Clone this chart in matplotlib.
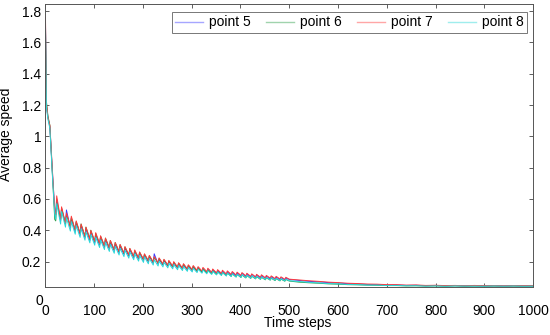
import matplotlib
matplotlib.use("Agg")
import matplotlib.pyplot as plt

plt.rcParams["font.family"] = ["Liberation Sans", "DejaVu Sans"]
plt.rcParams["font.size"] = 10

time_steps = [
    0, 2, 5, 9, 14, 19,
    21, 23, 31, 33, 41, 43, 51, 53, 61, 63, 71, 73, 81, 83, 91, 93,
    101, 103, 111, 113, 121, 123, 131, 133, 141, 143, 151, 153, 161, 163,
    171, 173, 181, 183, 191, 193, 201, 203, 211, 213, 221, 223, 231, 233,
    241, 243, 251, 253, 261, 263, 271, 273, 281, 283, 291, 293, 301, 303,
    311, 313, 321, 323, 331, 333, 341, 343, 351, 353, 361, 363, 371, 373,
    381, 383, 391, 393, 401, 403, 411, 413, 421, 423, 431, 433, 441, 443,
    451, 453, 461, 463, 471, 473, 481, 483, 491, 493,
    500, 520, 540, 560, 580, 600, 620, 640, 660, 680,
    700, 720, 740, 760, 780, 800, 820, 840, 860, 880, 900, 920, 940, 960,
    980, 1000,
]

point5 = [
    1.72, 1.20, 1.12, 1.06, 0.78, 0.53,
    0.50, 0.60, 0.46, 0.54, 0.44, 0.53, 0.415, 0.475, 0.39, 0.45, 0.37, 0.43,
    0.352, 0.408, 0.335, 0.39,
    0.32, 0.37, 0.305, 0.355, 0.29, 0.34, 0.28, 0.325, 0.268, 0.312,
    0.255, 0.30, 0.246, 0.286, 0.235, 0.275, 0.225, 0.265, 0.215, 0.255,
    0.208, 0.243, 0.198, 0.233, 0.19, 0.25, 0.185, 0.215, 0.178, 0.208,
    0.171, 0.201, 0.164, 0.194, 0.158, 0.186, 0.152, 0.18, 0.147, 0.173,
    0.142, 0.168, 0.138, 0.163, 0.133, 0.157, 0.13, 0.152, 0.126, 0.148,
    0.123, 0.143, 0.119, 0.139, 0.116, 0.136, 0.113, 0.131, 0.11, 0.128,
    0.107, 0.125, 0.105, 0.121, 0.102, 0.118, 0.099, 0.114, 0.096, 0.111,
    0.093, 0.107, 0.090, 0.104, 0.088, 0.101, 0.085, 0.098, 0.083, 0.095,
    0.086, 0.080, 0.074, 0.071, 0.066, 0.064,
    0.059, 0.058, 0.054, 0.054, 0.050, 0.051, 0.048, 0.049, 0.046, 0.048,
    0.045, 0.047, 0.045, 0.046, 0.044, 0.046, 0.044, 0.046, 0.044, 0.045,
]

point6 = [
    1.70, 1.22, 1.13, 1.07, 0.77, 0.47,
    0.46, 0.58, 0.47, 0.54, 0.44, 0.50, 0.42, 0.48, 0.40, 0.455, 0.38, 0.44,
    0.362, 0.42, 0.345, 0.40,
    0.328, 0.38, 0.312, 0.362, 0.298, 0.35, 0.286, 0.335, 0.274, 0.322,
    0.262, 0.308, 0.252, 0.294, 0.241, 0.283, 0.231, 0.27, 0.221, 0.26,
    0.212, 0.247, 0.203, 0.237, 0.195, 0.228, 0.188, 0.22, 0.181, 0.212,
    0.174, 0.204, 0.167, 0.196, 0.161, 0.19, 0.155, 0.183, 0.15, 0.176,
    0.145, 0.17, 0.138, 0.16, 0.133, 0.154, 0.128, 0.148, 0.123, 0.143,
    0.118, 0.137, 0.114, 0.132, 0.11, 0.127, 0.106, 0.122, 0.102, 0.118,
    0.099, 0.114, 0.096, 0.111, 0.093, 0.107, 0.090, 0.104, 0.087, 0.100,
    0.084, 0.097, 0.082, 0.094, 0.079, 0.091, 0.077, 0.088, 0.075, 0.086,
    0.076, 0.069, 0.065, 0.062, 0.058, 0.056,
    0.053, 0.052, 0.050, 0.049, 0.047, 0.047, 0.045, 0.046, 0.044, 0.045,
    0.043, 0.045, 0.043, 0.044, 0.043, 0.044, 0.043, 0.044, 0.043, 0.044,
]

point7 = [
    1.76, 1.21, 1.12, 1.07, 0.79, 0.52,
    0.50, 0.62, 0.47, 0.55, 0.445, 0.51, 0.425, 0.49, 0.40, 0.46, 0.38, 0.44,
    0.36, 0.42, 0.345, 0.40,
    0.33, 0.385, 0.315, 0.365, 0.30, 0.35, 0.288, 0.335, 0.276, 0.322,
    0.264, 0.31, 0.254, 0.296, 0.243, 0.285, 0.233, 0.275, 0.223, 0.262,
    0.215, 0.25, 0.206, 0.24, 0.198, 0.232, 0.192, 0.224, 0.185, 0.215,
    0.178, 0.208, 0.171, 0.20, 0.165, 0.193, 0.159, 0.187, 0.154, 0.18,
    0.149, 0.175, 0.144, 0.168, 0.14, 0.163, 0.136, 0.158, 0.132, 0.153,
    0.128, 0.149, 0.125, 0.145, 0.121, 0.141, 0.118, 0.137, 0.115, 0.133,
    0.112, 0.13, 0.109, 0.126, 0.106, 0.122, 0.103, 0.119, 0.100, 0.116,
    0.097, 0.112, 0.095, 0.109, 0.092, 0.106, 0.090, 0.103, 0.087, 0.100,
    0.088, 0.083, 0.078, 0.074, 0.069, 0.066,
    0.062, 0.060, 0.057, 0.056, 0.053, 0.053, 0.050, 0.051, 0.048, 0.049,
    0.047, 0.048, 0.046, 0.048, 0.046, 0.047, 0.045, 0.047, 0.046, 0.047,
]

point8 = [
    1.68, 1.18, 1.11, 1.05, 0.76, 0.50,
    0.47, 0.57, 0.44, 0.52, 0.42, 0.48, 0.395, 0.455, 0.375, 0.43, 0.355, 0.41,
    0.337, 0.39, 0.32, 0.372,
    0.305, 0.355, 0.29, 0.338, 0.277, 0.324, 0.265, 0.31, 0.253, 0.297,
    0.242, 0.285, 0.232, 0.272, 0.222, 0.262, 0.212, 0.25, 0.203, 0.24,
    0.195, 0.23, 0.186, 0.22, 0.178, 0.212, 0.172, 0.203, 0.166, 0.195,
    0.16, 0.188, 0.154, 0.181, 0.148, 0.175, 0.143, 0.168, 0.138, 0.162,
    0.134, 0.157, 0.13, 0.152, 0.126, 0.147, 0.122, 0.142, 0.118, 0.138,
    0.115, 0.134, 0.111, 0.13, 0.108, 0.126, 0.105, 0.122, 0.102, 0.119,
    0.099, 0.116, 0.097, 0.113, 0.094, 0.109, 0.091, 0.106, 0.088, 0.102,
    0.086, 0.099, 0.083, 0.096, 0.081, 0.093, 0.079, 0.090, 0.077, 0.088,
    0.078, 0.073, 0.068, 0.064, 0.060, 0.058,
    0.054, 0.053, 0.050, 0.050, 0.047, 0.048, 0.046, 0.046, 0.044, 0.045,
    0.043, 0.045, 0.044, 0.044, 0.043, 0.045, 0.043, 0.045, 0.043, 0.044,
]

series_names = ["point 5", "point 6", "point 7", "point 8"]
series_colors = ["#3a3aff", "#2e9e4a", "#ff3a3a", "#2ad8d8"]

fig = plt.figure(figsize=(5.5, 3.35), dpi=100)
ax = fig.add_axes([0.0827, 0.1433, 0.8864, 0.8448])

for vals, name, col in zip([point5, point6, point7, point8], series_names, series_colors):
    ax.plot(time_steps, vals, color=col, lw=0.7, label=name)

ax.set_xlim(0, 1000)
ax.set_ylim(0.038, 1.845)
ax.set_xticks(range(0, 1001, 100))
ax.set_yticks([0.2, 0.4, 0.6, 0.8, 1.0, 1.2, 1.4, 1.6, 1.8])
ax.set_yticklabels(["0.2", "0.4", "0.6", "0.8", "1", "1.2", "1.4", "1.6", "1.8"])
ax.tick_params(direction="in", length=3, width=0.6, top=True, right=True,
               color="#444444", labelsize=10)
ax.tick_params(axis="x", pad=12)
ax.tick_params(axis="y", pad=3)
for sp in ax.spines.values():
    sp.set_linewidth(0.7)
    sp.set_color("#555555")

# lone "0" label under the y axis
fig.text(0.071, 0.1015, "0", ha="center", va="center", fontsize=10)

ax.set_xlabel("Time steps", fontsize=10)
ax.xaxis.set_label_coords(0.518, -0.104)
ax.set_ylabel("Average speed", fontsize=10)
ax.yaxis.set_label_coords(-0.066, 0.54)

leg = ax.legend(loc="upper right", bbox_to_anchor=(527 / 550, (335 - 12) / 335),
                bbox_transform=fig.transFigure, ncol=4, fontsize=10, frameon=True,
                fancybox=False, borderaxespad=0, borderpad=0.25, handlelength=2.0,
                handletextpad=0.4, columnspacing=1.15)
leg.get_frame().set_edgecolor("#555555")
leg.get_frame().set_linewidth(0.7)
for ln in leg.get_lines():
    ln.set_linewidth(1.0)
    ln.set_alpha(0.45)

fig.savefig("out.png", dpi=100)
